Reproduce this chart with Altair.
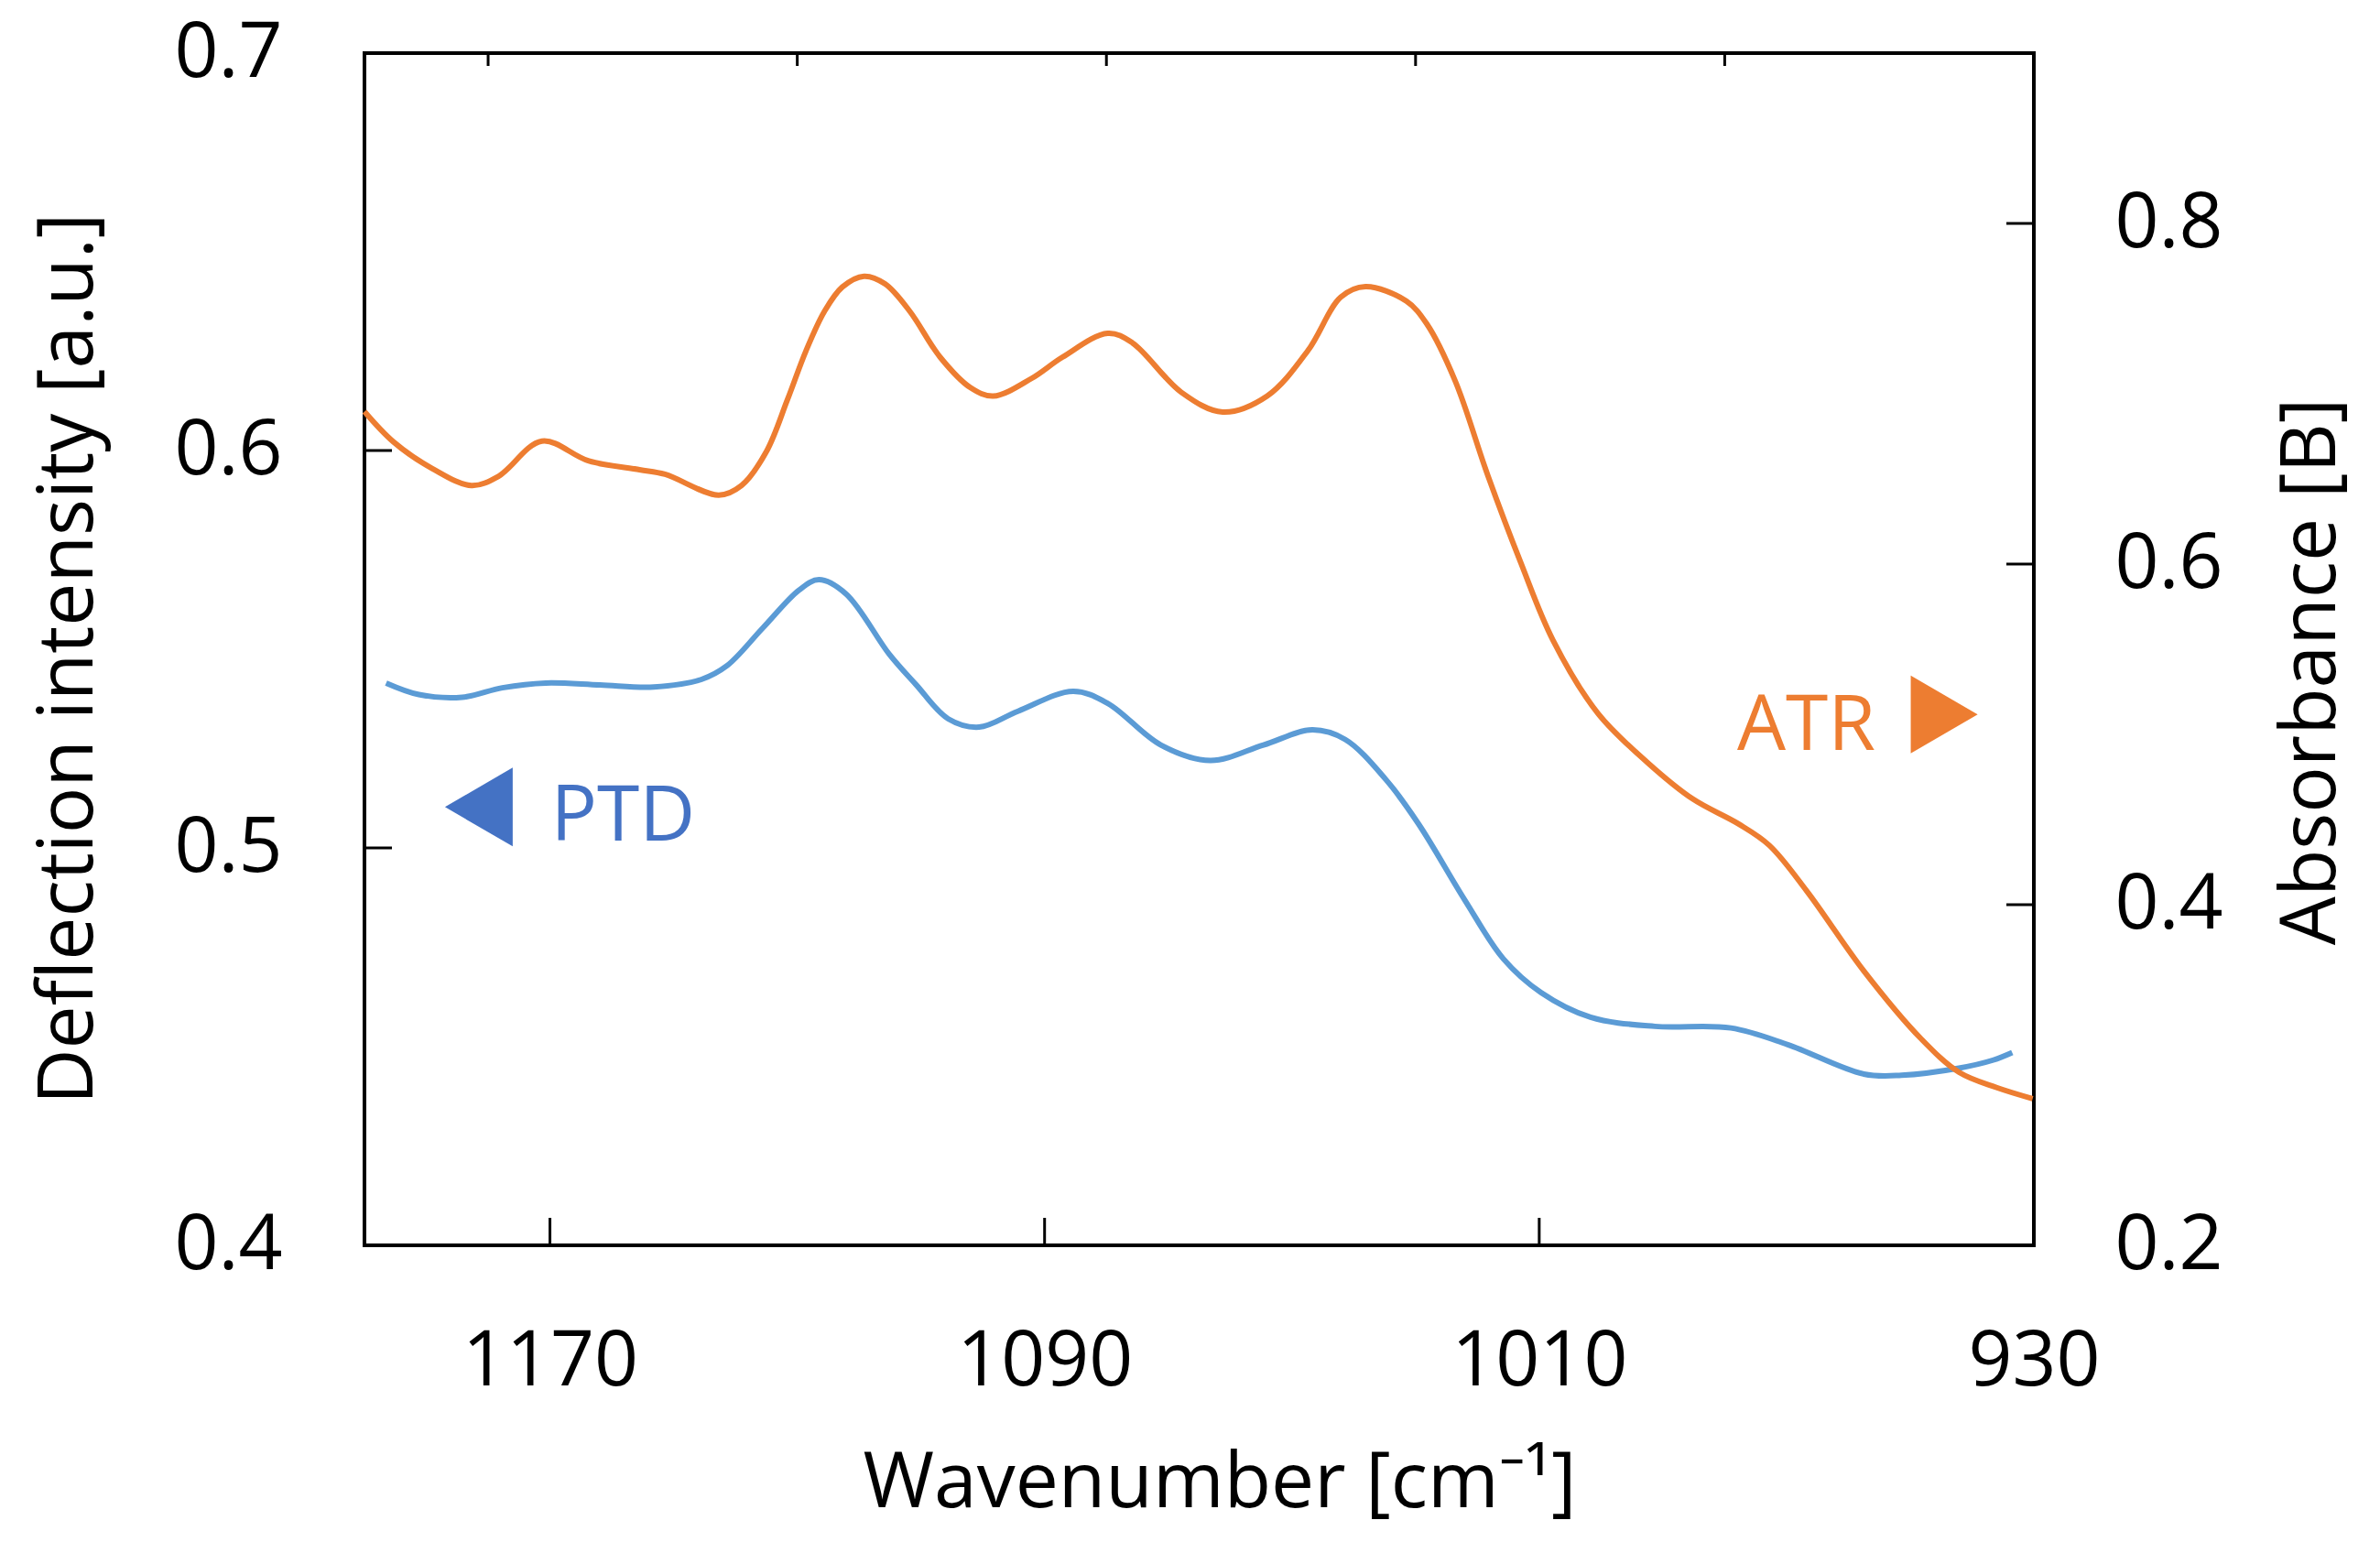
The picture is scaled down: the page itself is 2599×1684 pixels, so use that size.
import altair as alt
import pandas as pd

# ---- data ----
ptd_wavenumber = [1196.5, 1191.2, 1184.2, 1177.7, 1170.7, 1161.9, 1153.2, 1145.5, 1141.4, 1135.6,
                  1129.7, 1126.5, 1122.1, 1115.1, 1110.8, 1105.6, 1100.6, 1094.3, 1085.4, 1079.8,
                  1071.2, 1063.2, 1054.6, 1046.7, 1041.4, 1034.8, 1029.5, 1022.0, 1015.8, 1009.7,
                  1001.7, 991.3, 979.0, 969.8, 957.5, 951.4, 942.1, 936.6, 933.5]
ptd_intensity = [0.5415, 0.5386, 0.5379, 0.5403, 0.5415, 0.5410, 0.5405, 0.5424, 0.5458, 0.5553,
                 0.5649, 0.5675, 0.5639, 0.5487, 0.5411, 0.5325, 0.5304, 0.5344, 0.5394, 0.5364,
                 0.5259, 0.5220, 0.5259, 0.5297, 0.5273, 0.5172, 0.5060, 0.4868, 0.4721, 0.4636,
                 0.4574, 0.4551, 0.4547, 0.4505, 0.4431, 0.4428, 0.4446, 0.4466, 0.4485]

atr_wavenumber = [1200.0, 1195.3, 1189.0, 1182.7, 1178.3, 1171.3, 1163.7, 1155.5, 1151.4, 1142.7,
                  1139.0, 1135.0, 1131.6, 1128.6, 1125.6, 1122.7, 1119.2, 1115.8, 1111.8, 1106.9,
                  1102.0, 1098.3, 1092.1, 1087.1, 1079.8, 1075.8, 1067.9, 1061.2, 1054.0, 1047.4,
                  1042.1, 1038.1, 1031.5, 1028.2, 1023.6, 1018.3, 1013.0, 1007.8, 1000.5, 992.5,
                  985.1, 977.8, 972.8, 966.7, 957.5, 948.3, 942.1, 936.0, 930.2]
atr_absorbance = [0.6895, 0.6717, 0.6560, 0.6461, 0.6516, 0.6722, 0.6605, 0.6554, 0.6527, 0.6405,
                  0.6462, 0.6660, 0.6964, 0.7251, 0.7484, 0.7627, 0.7690, 0.7645, 0.7484, 0.7215,
                  0.7036, 0.6986, 0.7090, 0.7215, 0.7355, 0.7299, 0.7009, 0.6893, 0.6987, 0.7254,
                  0.7567, 0.7629, 0.7544, 0.7411, 0.7076, 0.6519, 0.6010, 0.5555, 0.5123, 0.4835,
                  0.4619, 0.4475, 0.4349, 0.4079, 0.3611, 0.3215, 0.3016, 0.2926, 0.2861]

x_tick_labels = [1170, 1090, 1010, 930]
x_top_ticks = [1180, 1130, 1080, 1030, 980]
left_ticks = [0.4, 0.5, 0.6, 0.7]
right_ticks = [0.2, 0.4, 0.6, 0.8]

ptd_label = ["PTD"]
ptd_label_pos = [1169.85, 0.5018]
ptd_arrow_pos = [1181.5, 0.5103]
atr_label = ["ATR"]
atr_label_pos = [955.6, 0.4909]
atr_arrow_pos = [944.5, 0.5117]

# ---- styles ----
W, H = 1823, 1302
FONT = "Open Sans"
FS = 84
ORANGE = "#ED7D31"
LIGHTBLUE = "#5B9BD5"
BLUE = "#4472C4"

xscale = alt.Scale(domain=[930, 1200], reverse=True, nice=False, zero=False)
lscale = alt.Scale(domain=[0.4, 0.7], nice=False, zero=False)
rscale = alt.Scale(domain=[0.2, 0.9], nice=False, zero=False)

x_axis = alt.Axis(values=x_tick_labels, format="d", ticks=False, tickSize=0, domain=False, grid=False,
                  labelPadding=86, labelFlush=False, labelLimit=0, labelOverlap=False,
                  title="Wavenumber [cm⁻¹]", titlePadding=50, titleX=W / 2 + 22)
l_axis = alt.Axis(values=left_ticks, format=".1f", ticks=False, tickSize=0, domain=False, grid=False,
                  labelPadding=90, labelLimit=0, title="Deflection intensity [a.u.]", titlePadding=80,
                  titleY=H / 2 + 10)
r_axis = alt.Axis(values=right_ticks, format=".1f", orient="right", ticks=False, tickSize=0,
                  domain=False, grid=False, labelPadding=88, labelLimit=0, title="Absorbance [B]",
                  titleAngle=270, titleBaseline="top", titlePadding=62, titleY=H / 2 + 24)

df_ptd = pd.DataFrame({"x": ptd_wavenumber, "y": ptd_intensity})
df_atr = pd.DataFrame({"x": atr_wavenumber, "a": atr_absorbance})

ptd_line = alt.Chart(df_ptd).mark_line(color=LIGHTBLUE, strokeWidth=6, interpolate="catmull-rom").encode(
    x=alt.X("x:Q", scale=xscale, axis=x_axis),
    y=alt.Y("y:Q", scale=lscale, axis=l_axis),
)

lt = alt.Chart(pd.DataFrame({"y": left_ticks})).mark_rule(color="black", strokeWidth=3).encode(
    y="y:Q", x=alt.value(0), x2=alt.value(30))
bt = alt.Chart(pd.DataFrame({"x": x_tick_labels})).mark_rule(color="black", strokeWidth=3).encode(
    x="x:Q", y=alt.value(H - 30), y2=alt.value(H))
tt = alt.Chart(pd.DataFrame({"x": x_top_ticks})).mark_rule(color="black", strokeWidth=3).encode(
    x="x:Q", y=alt.value(0), y2=alt.value(14))

ptd_arrow = alt.Chart(pd.DataFrame({"x": [ptd_arrow_pos[0]], "y": [ptd_arrow_pos[1]]})).mark_point(
    shape="M 0.86 -1 L 0.86 1 L -0.86 0 Z", filled=True, size=86 * 86, color=BLUE, opacity=1,
    strokeWidth=0).encode(x="x:Q", y="y:Q")
ptd_text = alt.Chart(pd.DataFrame({"x": [ptd_label_pos[0]], "y": [ptd_label_pos[1]], "t": ptd_label})).mark_text(
    align="left", baseline="alphabetic", font=FONT, fontSize=FS, color=BLUE).encode(
    x="x:Q", y="y:Q", text="t:N")

left = alt.layer(ptd_line, lt, bt, tt, ptd_arrow, ptd_text)

atr_line = alt.Chart(df_atr).mark_line(color=ORANGE, strokeWidth=6, interpolate="catmull-rom").encode(
    x=alt.X("x:Q", scale=xscale, axis=x_axis),
    y=alt.Y("a:Q", scale=rscale, axis=r_axis),
)
rt = alt.Chart(pd.DataFrame({"a": right_ticks})).mark_rule(color="black", strokeWidth=3).encode(
    y="a:Q", x=alt.value(W - 30), x2=alt.value(W))
atr_arrow = alt.Chart(pd.DataFrame({"x": [atr_arrow_pos[0]], "a": [atr_arrow_pos[1]]})).mark_point(
    shape="M -0.86 -1 L -0.86 1 L 0.86 0 Z", filled=True, size=85 * 85, color=ORANGE, opacity=1,
    strokeWidth=0).encode(x="x:Q", y="a:Q")
atr_text = alt.Chart(pd.DataFrame({"x": [atr_label_pos[0]], "a": [atr_label_pos[1]], "t": atr_label})).mark_text(
    align="right", baseline="alphabetic", font=FONT, fontSize=FS, color=ORANGE).encode(
    x="x:Q", y="a:Q", text="t:N")

right = alt.layer(atr_line, rt, atr_arrow, atr_text)

chart = alt.layer(left, right).resolve_scale(y="independent").properties(
    width=W, height=H,
    autosize=alt.AutoSizeParams(type="none"),
    padding={"left": 390, "top": 50, "right": 360, "bottom": 310},
    background="white",
).configure_view(stroke="black", strokeWidth=4).configure_axis(
    labelFont=FONT, labelFontSize=FS, labelColor="black",
    titleFont=FONT, titleFontSize=FS, titleFontWeight="normal", titleColor="black",
)

chart.save("out.html", embed_options={"renderer": "svg", "actions": False})
